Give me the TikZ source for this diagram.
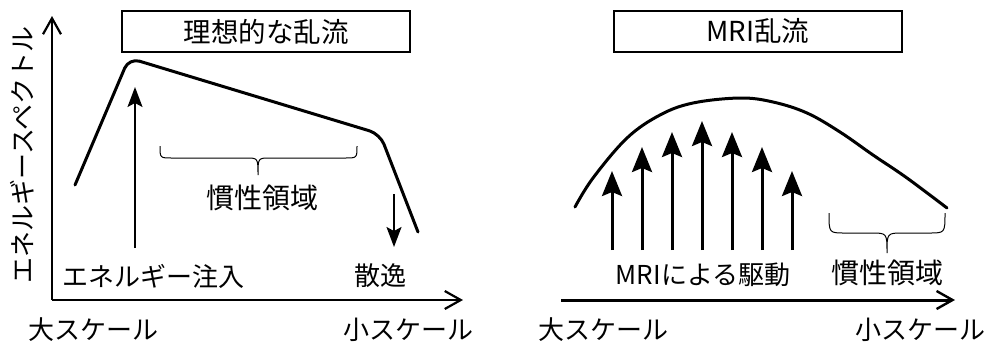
\documentclass[tikz,border=0pt]{standalone}
\usepackage{fontspec}
\setmainfont{Noto Sans CJK JP}
\usetikzlibrary{arrows.meta}
\tikzset{
  lbl/.style={inner sep=0pt, font=\fontsize{26}{26}\selectfont},
  bigl/.style={inner sep=0pt, font=\fontsize{28}{28}\selectfont},
  titlebox/.style={draw, line width=1.2pt, minimum width=288pt, minimum height=41pt, inner sep=0pt, font=\fontsize{27.5}{27.5}\selectfont},
  axisL/.style={line width=2.2pt, -{Straight Barb[length=16pt,width=18pt,line width=2.2pt]}},
  axisR/.style={line width=3pt, -{Straight Barb[length=16pt,width=18pt,line width=2.4pt]}},
  spec/.style={line width=3pt, line cap=round, line join=round},
  thinarr/.style={line width=1.6pt, -{Stealth[length=20pt,width=15pt,inset=4pt]}},
  thickarr/.style={line width=3pt, -{Stealth[length=25pt,width=20pt,inset=4pt]}},
  bracel/.style={line width=1pt}
}
\begin{document}
\begin{tikzpicture}[x=1pt,y=-1pt]
\useasboundingbox (0,0) rectangle (993,341);
% ---------- left panel ----------
\node[titlebox] (t1) at (266,31.5) {理想的な乱流};
\coordinate (o1) at (52,300);
\coordinate (yt1) at (52,16);
\coordinate (xt1) at (463,300);
\draw[axisL] (o1) -- (yt1);
\draw[axisL] (o1) -- (xt1);
\node[lbl, rotate=90] (ylab) at (22,155) {エネルギースペクトル};
\draw[spec, rounded corners=11pt] (75,185) -- (129,58) -- (380,134) -- (418,232);
\coordinate (inj0) at (135,248);
\coordinate (inj1) at (135,87);
\draw[thinarr] (inj0) -- (inj1);
\coordinate (dis0) at (394,194);
\coordinate (dis1) at (394,247);
\draw[thinarr] (dis0) -- (dis1);
\draw[bracel] (160,146) .. controls (160,158) .. (172,158) -- (246,158)
   .. controls (258,158) .. (258,175) .. controls (258,158) .. (270,158)
   -- (345,158) .. controls (357,158) .. (357,146);
\node[bigl] (in1) at (262,198) {慣性領域};
\node[lbl] (inj) at (153,276) {エネルギー注入};
\node[lbl] (dis) at (380,276) {散逸};
\node[lbl] (ls1) at (93,330) {大スケール};
\node[lbl] (ss1) at (408,330) {小スケール};
% ---------- right panel ----------
\node[titlebox] (t2) at (758,31.5) {MRI乱流};
\coordinate (o2) at (561,300);
\coordinate (xt2) at (955,300);
\draw[axisR] (o2) -- (xt2);
\draw[spec] plot[smooth, tension=0.6] coordinates {(575,207) (593,178) (627,138) (660,115) (693,103) (740,98) (773,102) (807,113) (840,132) (873,155) (907,178) (947,208)};
\foreach \i/\x/\y in {1/612/171,2/642/147,3/672/132,4/702/121,5/732/132,6/762/147,7/792/171}{
  \coordinate (ab\i) at (\x,250);
  \coordinate (at\i) at (\x,\y);
  \draw[thickarr] (ab\i) -- (at\i);
}
\draw[bracel] (829,213) .. controls (829,233) .. (845,233) -- (871,233)
   .. controls (887,233) .. (887,253) .. controls (887,233) .. (903,233)
   -- (929,233) .. controls (945,233) .. (945,213);
\node[lbl] (drv) at (703,275) {MRIによる駆動};
\node[bigl] (in2) at (887,273) {慣性領域};
\node[lbl] (ls2) at (603,330) {大スケール};
\node[lbl] (ss2) at (920,330) {小スケール};
\end{tikzpicture}
\end{document}
